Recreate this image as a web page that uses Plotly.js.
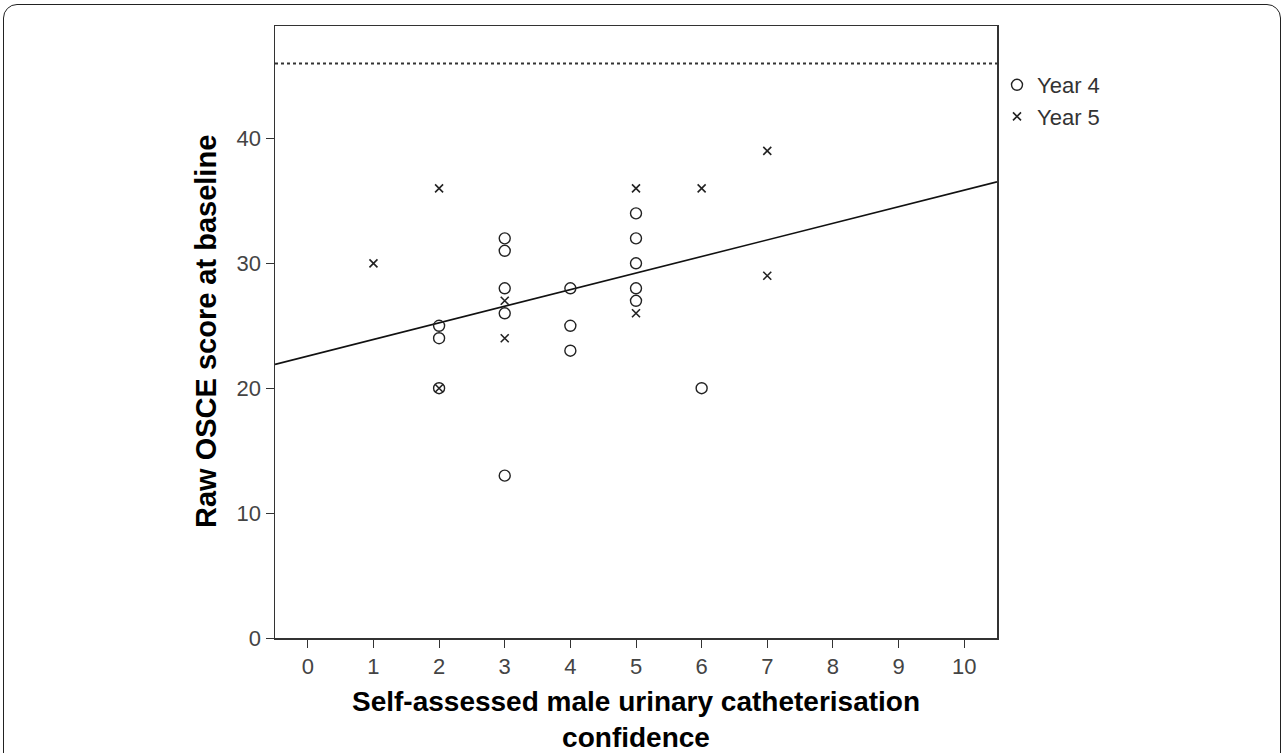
<!DOCTYPE html>
<html>
<head>
<meta charset="utf-8">
<script src="https://cdn.plot.ly/plotly-3.0.1.min.js"></script>
<style>
  html, body { margin: 0; padding: 0; background: #fff; overflow: hidden; }
  #frame { position: absolute; left: 3px; top: 4px; width: 1276px; height: 800px;
           border: 1.5px solid #222; border-radius: 14px; }
  #chart { position: absolute; left: 0; top: 0; width: 1284px; height: 753px; }
</style>
</head>
<body>
<div id="frame"></div>
<div id="chart"></div>
<script>
// Data
const year4X = [2, 2, 2, 3, 3, 3, 3, 3, 4, 4, 4, 5, 5, 5, 5, 5, 6];
const year4Y = [25, 24, 20, 32, 31, 28, 26, 13, 28, 25, 23, 34, 32, 30, 28, 27, 20];
const year5X = [1, 2, 2, 3, 3, 5, 5, 6, 7, 7];
const year5Y = [30, 36, 20, 27, 24, 36, 26, 36, 39, 29];
const maxScore = 46;
const xTicks = [0, 1, 2, 3, 4, 5, 6, 7, 8, 9, 10];
const yTicks = [0, 10, 20, 30, 40];
const xRange = [-0.5, 10.5];
const yRange = [0, 49];
const xTitleLines = ['Self-assessed male urinary catheterisation', 'confidence'];
const yTitle = 'Raw OSCE score at baseline';

// Linear fit over all points
const allX = year4X.concat(year5X);
const allY = year4Y.concat(year5Y);
const n = allX.length;
const mx = allX.reduce((a, b) => a + b, 0) / n;
const my = allY.reduce((a, b) => a + b, 0) / n;
let sxy = 0, sxx = 0;
for (let i = 0; i < n; i++) { sxy += (allX[i] - mx) * (allY[i] - my); sxx += (allX[i] - mx) ** 2; }
const slope = sxy / sxx;
const intercept = my - slope * mx;
const fitX = [xRange[0], xRange[1]];
const fitY = fitX.map(v => intercept + slope * v);

const traces = [
  { x: fitX, y: fitY, mode: 'lines', line: { color: '#111', width: 1.6 }, showlegend: false, hoverinfo: 'skip' },
  { x: year4X, y: year4Y, mode: 'markers', name: 'Year 4',
    marker: { symbol: 'circle-open', size: 11, color: '#222', line: { width: 1.4, color: '#222' } } },
  { x: year5X, y: year5Y, mode: 'markers', name: 'Year 5',
    marker: { symbol: 'x-thin-open', size: 8, color: '#222', line: { width: 1.6, color: '#222' } } }
];

const FONT = 'Liberation Sans, Arial, sans-serif';
const tickFont = { family: FONT, size: 22, color: '#444' };
const titleFont = { family: FONT, size: 29, color: '#000', weight: 'bold' };
const xTitleFont = { family: FONT, size: 28, color: '#000', weight: 'bold' };

const plotTop = 26, plotBottom = 638;
const paperY = p => (plotBottom - p) / (plotBottom - plotTop);

const layout = {
  width: 1284, height: 753,
  margin: { l: 275, r: 287, t: plotTop, b: 753 - plotBottom },
  paper_bgcolor: 'rgba(0,0,0,0)',
  plot_bgcolor: '#fff',
  showlegend: true,
  legend: { x: 1.0, y: paperY(64), xanchor: 'left', yanchor: 'top',
            font: { family: FONT, size: 22, color: '#333' },
            itemwidth: 30, tracegroupgap: 0, bgcolor: 'rgba(0,0,0,0)' },
  xaxis: {
    range: xRange, tickvals: xTicks, ticktext: xTicks.map(String),
    showgrid: false, zeroline: false, showline: true, linecolor: '#333', linewidth: 1.5, mirror: true,
    ticks: 'outside', ticklen: 8, tickcolor: '#333', tickfont: tickFont
  },
  yaxis: {
    range: yRange, tickvals: yTicks, ticktext: yTicks.map(String),
    showgrid: false, zeroline: false, showline: true, linecolor: '#333', linewidth: 1.5, mirror: true,
    ticks: 'outside', ticklen: 8, tickcolor: '#333', tickfont: tickFont
  },
  annotations: [
    { text: '<b>' + xTitleLines.join('<br>') + '</b>', xref: 'paper', yref: 'paper', x: 0.5, y: paperY(719),
      xanchor: 'center', yanchor: 'middle', showarrow: false, font: xTitleFont },
    { text: '<b>' + yTitle + '</b>', xref: 'paper', yref: 'paper', x: (206 - 275) / 722, y: 0.5,
      xanchor: 'center', yanchor: 'middle', textangle: -90, showarrow: false, font: titleFont }
  ],
  shapes: [
    { type: 'line', xref: 'paper', x0: 0, x1: 1, yref: 'y', y0: maxScore, y1: maxScore,
      line: { color: '#333', width: 2, dash: 'dot' } }
  ]
};

Plotly.newPlot('chart', traces, layout, { staticPlot: true, displayModeBar: false });
</script>
</body>
</html>
